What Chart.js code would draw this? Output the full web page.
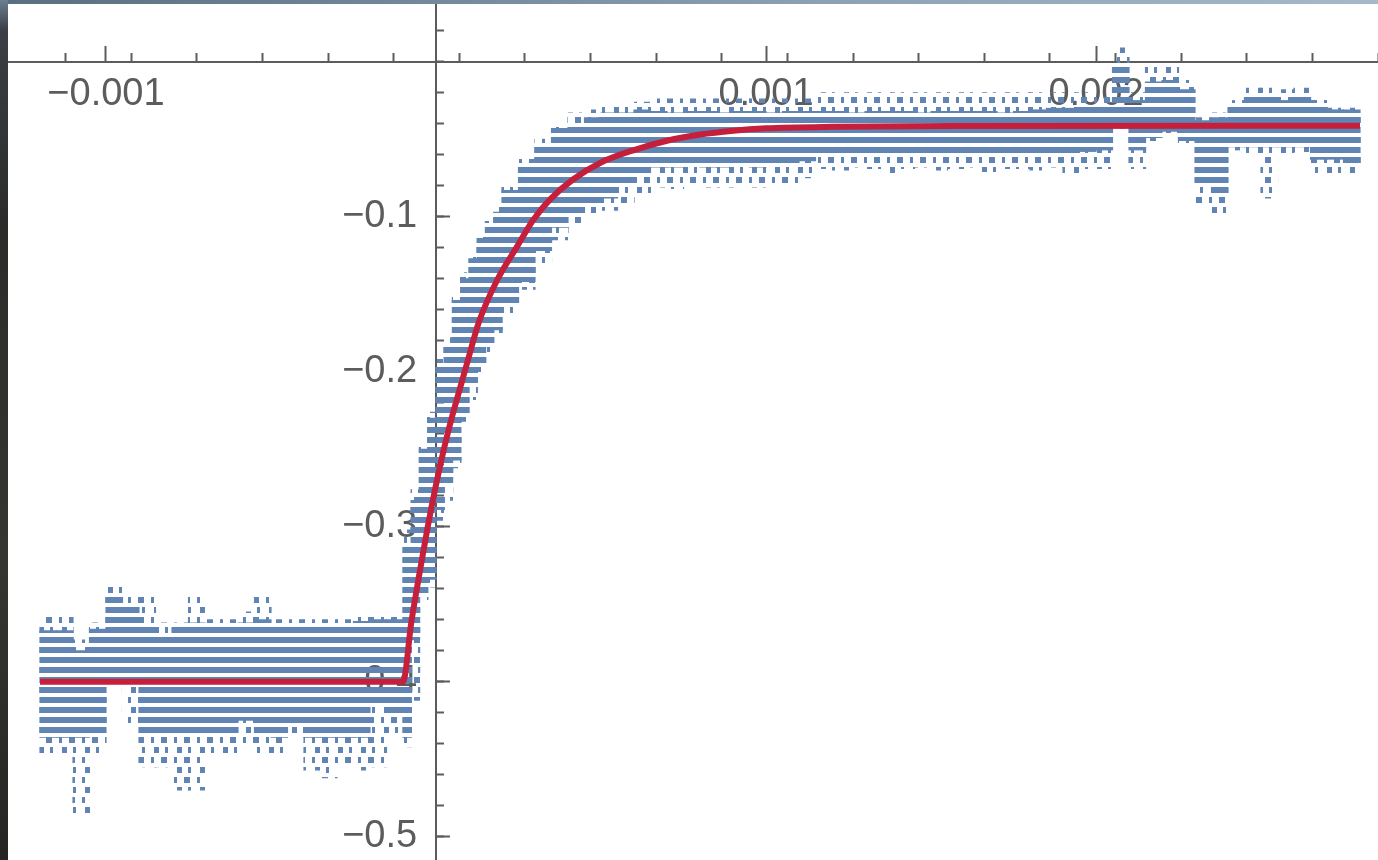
<!DOCTYPE html>
<html>
<head>
<meta charset="utf-8">
<script src="https://cdn.jsdelivr.net/npm/chart.js@4.4.1/dist/chart.umd.min.js"></script>
<style>
  html, body { margin: 0; padding: 0; background: #fff; }
  #wrap { position: relative; width: 1378px; height: 860px; overflow: hidden; }
  #wrap canvas { position: absolute; left: 0; top: 0; }
  .edge-top { position: absolute; left: 0; top: 0; width: 1378px; height: 4px;
    background: linear-gradient(to right, #5a6e82, #8ba1b6 60%, #a7b9c9); }
  .edge-left { position: absolute; left: 0; top: 0; width: 8px; height: 860px;
    background: linear-gradient(to bottom, #6b7f92 0, #3b4046 30px, #2b2c2a 220px, #35362f 560px, #252624); }
</style>
</head>
<body>
<div id="wrap">
  <canvas id="plot" width="1378" height="860"></canvas>
  <div class="edge-top"></div>
  <div class="edge-left"></div>
</div>
<script>
// time in microseconds, labels shown in seconds
const tMajor = [-1000, 1000, 2000];
const vMajor = [-0.1, -0.2, -0.3, -0.4, -0.5];

// 50 us bins before and after the rise
const binT = [-1175,-1125,-1075,-1025,-975,-925,-875,-825,-775,-725,-675,-625,-575,-525,-475,-425,-375,-325,-275,-225,-175,-125,
  225,275,325,375,425,475,525,575,625,675,725,775,825,875,925,975,1025,1075,1125,1175,1225,1275,1325,1375,1425,1475,1525,1575,
  1625,1675,1725,1775,1825,1875,1925,1975,2025,2075,2125,2175,2225,2275,2325,2375,2425,2475,2525,2575,2625,2675,2725,2775];
// dense part of the samples in each bin (top / bottom)
const coreHi = [-0.367,-0.367,-0.380,-0.366,-0.345,-0.351,-0.363,-0.369,-0.365,-0.362,-0.363,-0.365,-0.362,-0.360,-0.363,-0.365,-0.365,-0.365,-0.363,-0.361,-0.360,-0.360,
  -0.083,-0.066,-0.053,-0.043,-0.041,-0.036,-0.033,-0.033,-0.031,
  -0.032,-0.033,-0.032,-0.032,-0.033,-0.032,-0.032,-0.033,-0.032,-0.032,
  -0.032,-0.032,-0.033,-0.032,-0.032,-0.032,-0.033,-0.032,-0.032,-0.032,-0.032,-0.033,-0.032,-0.031,-0.030,-0.030,-0.029,
  -0.028,-0.001,-0.025,-0.013,-0.012,-0.018,-0.038,-0.036,-0.028,-0.022,-0.022,-0.025,-0.022,-0.027,-0.031,-0.031];
const coreLo = [-0.436,-0.436,-0.436,-0.435,-0.400,-0.400,-0.434,-0.434,-0.435,-0.435,-0.434,-0.435,-0.425,-0.435,-0.436,-0.428,-0.436,-0.436,-0.436,-0.436,-0.416,-0.420,
  -0.157,-0.142,-0.122,-0.107,-0.099,-0.093,-0.088,-0.080,-0.073,
  -0.068,-0.068,-0.067,-0.068,-0.068,-0.067,-0.068,-0.067,-0.066,-0.064,
  -0.060,-0.061,-0.060,-0.059,-0.060,-0.060,-0.061,-0.060,-0.060,-0.059,-0.060,-0.060,-0.061,-0.060,-0.060,-0.059,-0.058,
  -0.057,-0.042,-0.057,-0.049,-0.045,-0.051,-0.080,-0.085,-0.055,-0.055,-0.055,-0.055,-0.055,-0.063,-0.063,-0.067];
// scattered outliers around the dense part
const spreadHi = [-0.356,-0.356,-0.373,-0.362,-0.338,-0.343,-0.344,-0.362,-0.362,-0.343,-0.360,-0.360,-0.355,-0.343,-0.360,-0.360,-0.360,-0.360,-0.360,-0.356,-0.356,-0.356,
  -0.080,-0.063,-0.050,-0.040,-0.033,-0.031,-0.028,-0.028,-0.026,
  -0.024,-0.024,-0.024,-0.024,-0.024,-0.024,-0.024,-0.024,-0.024,-0.024,
  -0.020,-0.020,-0.020,-0.020,-0.020,-0.020,-0.020,-0.020,-0.020,-0.020,-0.020,-0.020,-0.020,-0.020,-0.020,-0.020,-0.020,
  -0.023,0.009,-0.020,-0.002,-0.001,-0.012,-0.036,-0.033,-0.025,-0.017,-0.017,-0.018,-0.017,-0.025,-0.030,-0.030];
const spreadLo = [-0.448,-0.448,-0.486,-0.447,-0.403,-0.429,-0.455,-0.455,-0.470,-0.470,-0.447,-0.447,-0.440,-0.447,-0.447,-0.435,-0.457,-0.462,-0.454,-0.457,-0.455,-0.434,
  -0.164,-0.147,-0.131,-0.115,-0.105,-0.099,-0.096,-0.093,-0.086,
  -0.081,-0.082,-0.080,-0.081,-0.081,-0.080,-0.081,-0.080,-0.078,-0.075,
  -0.069,-0.070,-0.068,-0.069,-0.072,-0.069,-0.068,-0.070,-0.069,-0.068,-0.071,-0.069,-0.069,-0.070,-0.068,-0.072,-0.069,
  -0.069,-0.043,-0.069,-0.051,-0.047,-0.053,-0.093,-0.098,-0.057,-0.060,-0.088,-0.060,-0.058,-0.073,-0.073,-0.073];

// 25 us bins through the steep part
const riseT = [-87.5,-62.5,-37.5,-12.5,12.5,37.5,62.5,87.5,112.5,137.5,162.5,187.5];
const riseHi = [-0.312,-0.283,-0.250,-0.230,-0.196,-0.183,-0.154,-0.140,-0.127,-0.114,-0.106,-0.097];
const riseLo = [-0.436,-0.373,-0.344,-0.334,-0.289,-0.273,-0.257,-0.228,-0.209,-0.196,-0.183,-0.173];
const riseSpreadHi = [-0.302,-0.276,-0.247,-0.226,-0.192,-0.178,-0.150,-0.136,-0.124,-0.111,-0.103,-0.094];
const riseSpreadLo = [-0.442,-0.412,-0.347,-0.339,-0.296,-0.283,-0.262,-0.232,-0.218,-0.200,-0.187,-0.176];

// fitted curve (red)
const fitT = [-1200,-100,-75,-50,-25,0,25,50,75,100,130,185,245,295,345,415,500,600,700,800,900,1000,1200,1600,2800];
const fitV = [-0.400,-0.400,-0.362,-0.330,-0.300,-0.273,-0.249,-0.228,-0.209,-0.190,-0.168,-0.141,-0.1195,-0.102,-0.089,-0.076,-0.065,-0.057,-0.051,-0.047,-0.0445,-0.043,-0.042,-0.0415,-0.0413];

const BLUE = '#6084b4';
const AXIS = '#5c5c5c';

function stripes(color, dashed) {
  const c = document.createElement('canvas');
  c.width = dashed ? 23 : 1;
  c.height = dashed ? 20 : 10;
  const g = c.getContext('2d');
  g.fillStyle = color;
  if (!dashed) {
    g.fillRect(0, 0, 1, 3);
    g.fillRect(0, 7, 1, 3);
  } else {
    // two rows of scattered dashes, staggered
    g.fillRect(0, 0, 6, 3); g.fillRect(0, 17, 6, 3);
    g.fillRect(13, 0, 3, 3); g.fillRect(13, 17, 3, 3);
    g.fillRect(4, 7, 3, 6); g.fillRect(16, 7, 5, 6);
  }
  return g.createPattern(c, 'repeat');
}

const fmtMinus = (s, v) => (v < 0 ? '\u2212' : '') + s;
const noPad = s => { s.paddingLeft = 0; s.paddingRight = 0; s.paddingTop = 0; s.paddingBottom = 0; };
const labelFont = { family: 'Liberation Sans', size: 38 };

const ctx = document.getElementById('plot').getContext('2d');
const densePat = stripes(BLUE, false);
const sparsePat = stripes(BLUE, true);

const band = (xs, lo, hi) => xs.map((t, i) => ({ x: t, y: [lo[i], hi[i]] }));

new Chart(ctx, {
  type: 'bar',
  data: {
    datasets: [
      {
        type: 'line',
        data: fitT.map((t, i) => ({ x: t, y: fitV[i] })),
        borderColor: '#c51f3c',
        borderWidth: 6,
        pointRadius: 0,
        cubicInterpolationMode: 'monotone',
        fill: false,
        order: 1
      },
      { data: band(binT, coreLo, coreHi), backgroundColor: densePat, barThickness: 17, stack: 's', order: 2 },
      { data: band(riseT, riseLo, riseHi), backgroundColor: densePat, barThickness: 9, stack: 's', order: 2 },
      { data: band(binT, spreadLo, spreadHi), backgroundColor: sparsePat, barThickness: 17, stack: 's', order: 3 },
      { data: band(riseT, riseSpreadLo, riseSpreadHi), backgroundColor: sparsePat, barThickness: 9, stack: 's', order: 3 }
    ]
  },
  options: {
    responsive: false,
    devicePixelRatio: 1,
    animation: false,
    layout: { padding: 0 },
    plugins: { legend: { display: false }, tooltip: { enabled: false } },
    scales: {
      x: {
        type: 'linear', axis: 'x', position: { y: 0 }, stacked: true, offset: false,
        min: -1321.2, max: 2854.5,
        afterBuildTicks: s => { s.ticks = tMajor.map(v => ({ value: v })); },
        afterFit: noPad,
        ticks: {
          autoSkip: false, maxRotation: 0, minRotation: 0, padding: 27, color: AXIS,
          font: labelFont,
          callback: v => fmtMinus(Math.abs(v / 1e6).toFixed(3), v)
        },
        grid: { offset: false, drawOnChartArea: false, tickLength: -17, tickWidth: 2, tickColor: AXIS },
        border: { color: AXIS, width: 2 }
      },
      xMinor: {
        type: 'linear', axis: 'x', position: { y: 0 }, offset: false,
        min: -1321.2, max: 2854.5,
        afterFit: noPad,
        ticks: { display: false, stepSize: 200, includeBounds: false },
        grid: { offset: false, drawOnChartArea: false, tickLength: -9, tickWidth: 2, tickColor: AXIS },
        border: { display: false }
      },
      // value labels sit a little left of the vertical axis
      y: {
        type: 'linear', axis: 'y', position: { x: -57 }, stacked: false,
        min: -0.51503, max: 0.0398,
        afterBuildTicks: s => { s.ticks = vMajor.map(v => ({ value: v })); },
        afterFit: noPad,
        ticks: {
          autoSkip: false, color: AXIS, font: labelFont,
          callback: v => fmtMinus(Math.abs(v).toFixed(1), v)
        },
        grid: { display: false },
        border: { display: false }
      },
      yMajor: {
        type: 'linear', axis: 'y', position: { x: 0 },
        min: -0.51503, max: 0.0398,
        afterBuildTicks: s => { s.ticks = vMajor.map(v => ({ value: v })); },
        afterFit: noPad,
        ticks: { display: false },
        grid: { drawOnChartArea: false, tickLength: -15, tickWidth: 2, tickColor: AXIS },
        border: { color: AXIS, width: 2 }
      },
      yMinor: {
        type: 'linear', axis: 'y', position: { x: 0 },
        min: -0.51503, max: 0.0398,
        afterFit: noPad,
        ticks: { display: false, stepSize: 0.02, includeBounds: false },
        grid: { drawOnChartArea: false, tickLength: -8, tickWidth: 2, tickColor: AXIS },
        border: { display: false }
      }
    }
  }
});
</script>
</body>
</html>
